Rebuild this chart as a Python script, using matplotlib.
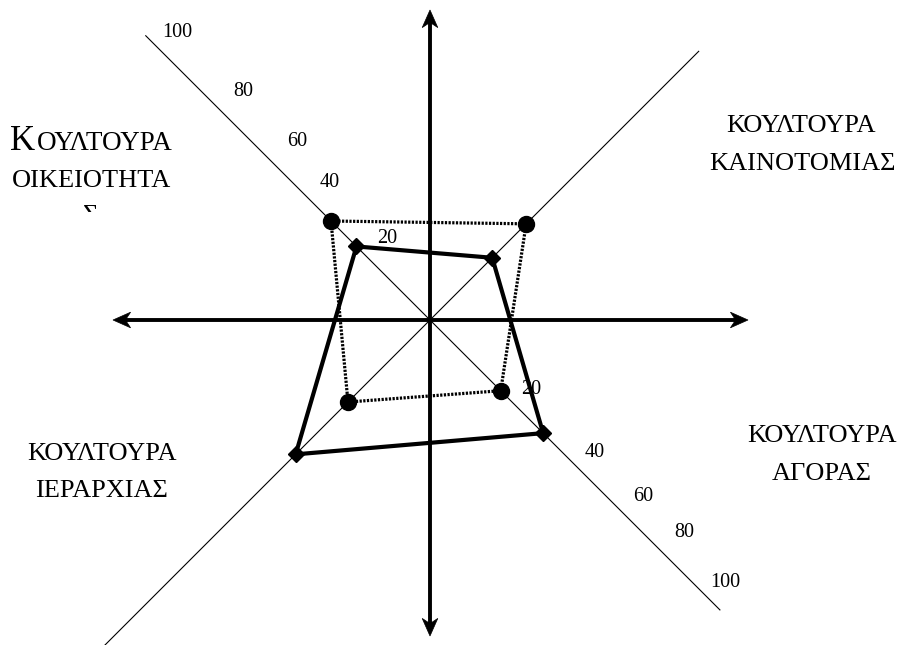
import matplotlib
matplotlib.use("Agg")
import numpy as np
import matplotlib.pyplot as plt
from matplotlib.patches import Polygon, Rectangle

# ---------------- data ----------------
quadrant_line1 = ["ΚΟΥΛΤΟΥΡΑ", "ΚΟΥΛΤΟΥΡΑ", "ΚΟΥΛΤΟΥΡΑ", "ΚΟΥΛΤΟΥΡΑ"]
quadrant_line2 = ["ΟΙΚΕΙΟΤΗΤΑΣ", "ΚΑΙΝΟΤΟΜΙΑΣ", "ΑΓΟΡΑΣ", "ΙΕΡΑΡΧΙΑΣ"]
# values along the diagonals, order: upper-left, upper-right, lower-right, lower-left
circle_values = [35, 34, 25, 29]
diamond_values = [26, 22, 40, 47.5]
tick_values = [20, 40, 60, 80, 100]

# ---------------- layout ----------------
directions_deg = [135, 45, -45, -135]
tick_pos_ul = [22, 42, 55, 73.5, 95.6]
tick_perp_ul = [6.9, 6.5, 8.1, 7.4, 6.2]
tick_pos_lr = [30.1, 52.5, 68.9, 82.4, 98.5]
tick_perp_lr = [5.7, 5.8, 6.4, 7.4, 5.8]
FONT = "Liberation Serif"

fig = plt.figure(figsize=(9.05, 6.45), dpi=100)
ax = fig.add_axes([0, 0, 1, 1])
ax.set_xlim(-107.5, 118.75)
ax.set_ylim(-81.25, 80)
ax.axis("off")


def unit(deg):
    r = np.deg2rad(deg)
    return np.array([np.cos(r), np.sin(r)])


def polar_points(values):
    pts = np.array([v * unit(d) for v, d in zip(values, directions_deg)])
    return np.vstack([pts, pts[:1]])


# thin diagonal lines
for (a1, l1), (a2, l2) in [((135, 100.5), (-45, 102.5)), ((45, 95), (-135, 125))]:
    p1 = l1 * unit(a1)
    p2 = l2 * unit(a2)
    ax.plot([p1[0], p2[0]], [p1[1], p2[1]], color="black", lw=0.8, zorder=1)

# main axes with arrowheads
tips = {(0, 1): 77.5, (0, -1): 79.0, (-1, 0): 79.25, (1, 0): 79.5}
L, W, notch = 4.4, 3.9, 1.3
for (dx, dy), length in tips.items():
    d = np.array([dx, dy], dtype=float)
    p = np.array([-dy, dx], dtype=float)
    tip = d * length
    ax.plot([0, tip[0] - d[0] * (L - notch)], [0, tip[1] - d[1] * (L - notch)],
            color="black", lw=2.8, solid_capstyle="butt", zorder=2)
    head = [tip, tip - L * d + W / 2 * p, tip - (L - notch) * d, tip - L * d - W / 2 * p]
    ax.add_patch(Polygon(head, closed=True, facecolor="black", edgecolor="black",
                         lw=0.5, zorder=2))

# series
cp = polar_points(circle_values)
ax.plot(cp[:, 0], cp[:, 1], color="black", lw=2.3, linestyle=(0, (0.7, 0.45)),
        dash_capstyle="butt", zorder=3)
ax.plot(cp[:-1, 0], cp[:-1, 1], linestyle="none", marker="o", markersize=11.5,
        color="black", zorder=5)

dp = polar_points(diamond_values)
ax.plot(dp[:, 0], dp[:, 1], color="black", lw=3.0, solid_joinstyle="miter", zorder=4)
ax.plot(dp[:-1, 0], dp[:-1, 1], linestyle="none", marker="D", markersize=8,
        color="black", zorder=5)

# tick labels along diagonals
u_ul, u_lr, n = unit(135), unit(-45), unit(45)
for val, a, pp in zip(tick_values, tick_pos_ul, tick_perp_ul):
    pos = a * u_ul + pp * n
    ax.text(pos[0], pos[1], str(val), ha="center", va="center", fontsize=14.5,
            family=FONT, zorder=6)
for val, a, pp in zip(tick_values, tick_pos_lr, tick_perp_lr):
    pos = a * u_lr + pp * n
    ax.text(pos[0], pos[1], str(val), ha="center", va="center", fontsize=14.5,
            family=FONT, zorder=6)

# quadrant titles
fs = 19
# upper-left (small-caps style first line, third line cut off by its text box)
ax.text(-104.9, 42.5, quadrant_line1[0][0], ha="left", va="baseline", fontsize=25, family=FONT)
ax.text(-98.4, 42.5, quadrant_line1[0][1:], ha="left", va="baseline", fontsize=19.5, family=FONT)
ax.text(-84.75, 33.25, quadrant_line2[0][:-1], ha="center", va="baseline", fontsize=fs, family=FONT)
ax.text(-84.75, 24.6, quadrant_line2[0][-1], ha="center", va="baseline", fontsize=fs,
        family=FONT, zorder=7)
ax.add_patch(Rectangle((-95, 18.0), 22, 8.9, facecolor="white", edgecolor="none", zorder=8))

# upper-right
ax.text(92.75, 47.0, quadrant_line1[1], ha="center", va="baseline", fontsize=fs, family=FONT)
ax.text(93.0, 37.5, quadrant_line2[1], ha="center", va="baseline", fontsize=fs, family=FONT)
# lower-right
ax.text(98.0, -30.5, quadrant_line1[2], ha="center", va="baseline", fontsize=fs, family=FONT)
ax.text(98.0, -40.0, quadrant_line2[2], ha="center", va="baseline", fontsize=fs, family=FONT)
# lower-left
ax.text(-82.0, -35.0, quadrant_line1[3], ha="center", va="baseline", fontsize=fs, family=FONT)
ax.text(-82.0, -44.25, quadrant_line2[3], ha="center", va="baseline", fontsize=fs, family=FONT)

fig.savefig("out.png", dpi=100, facecolor="white")
